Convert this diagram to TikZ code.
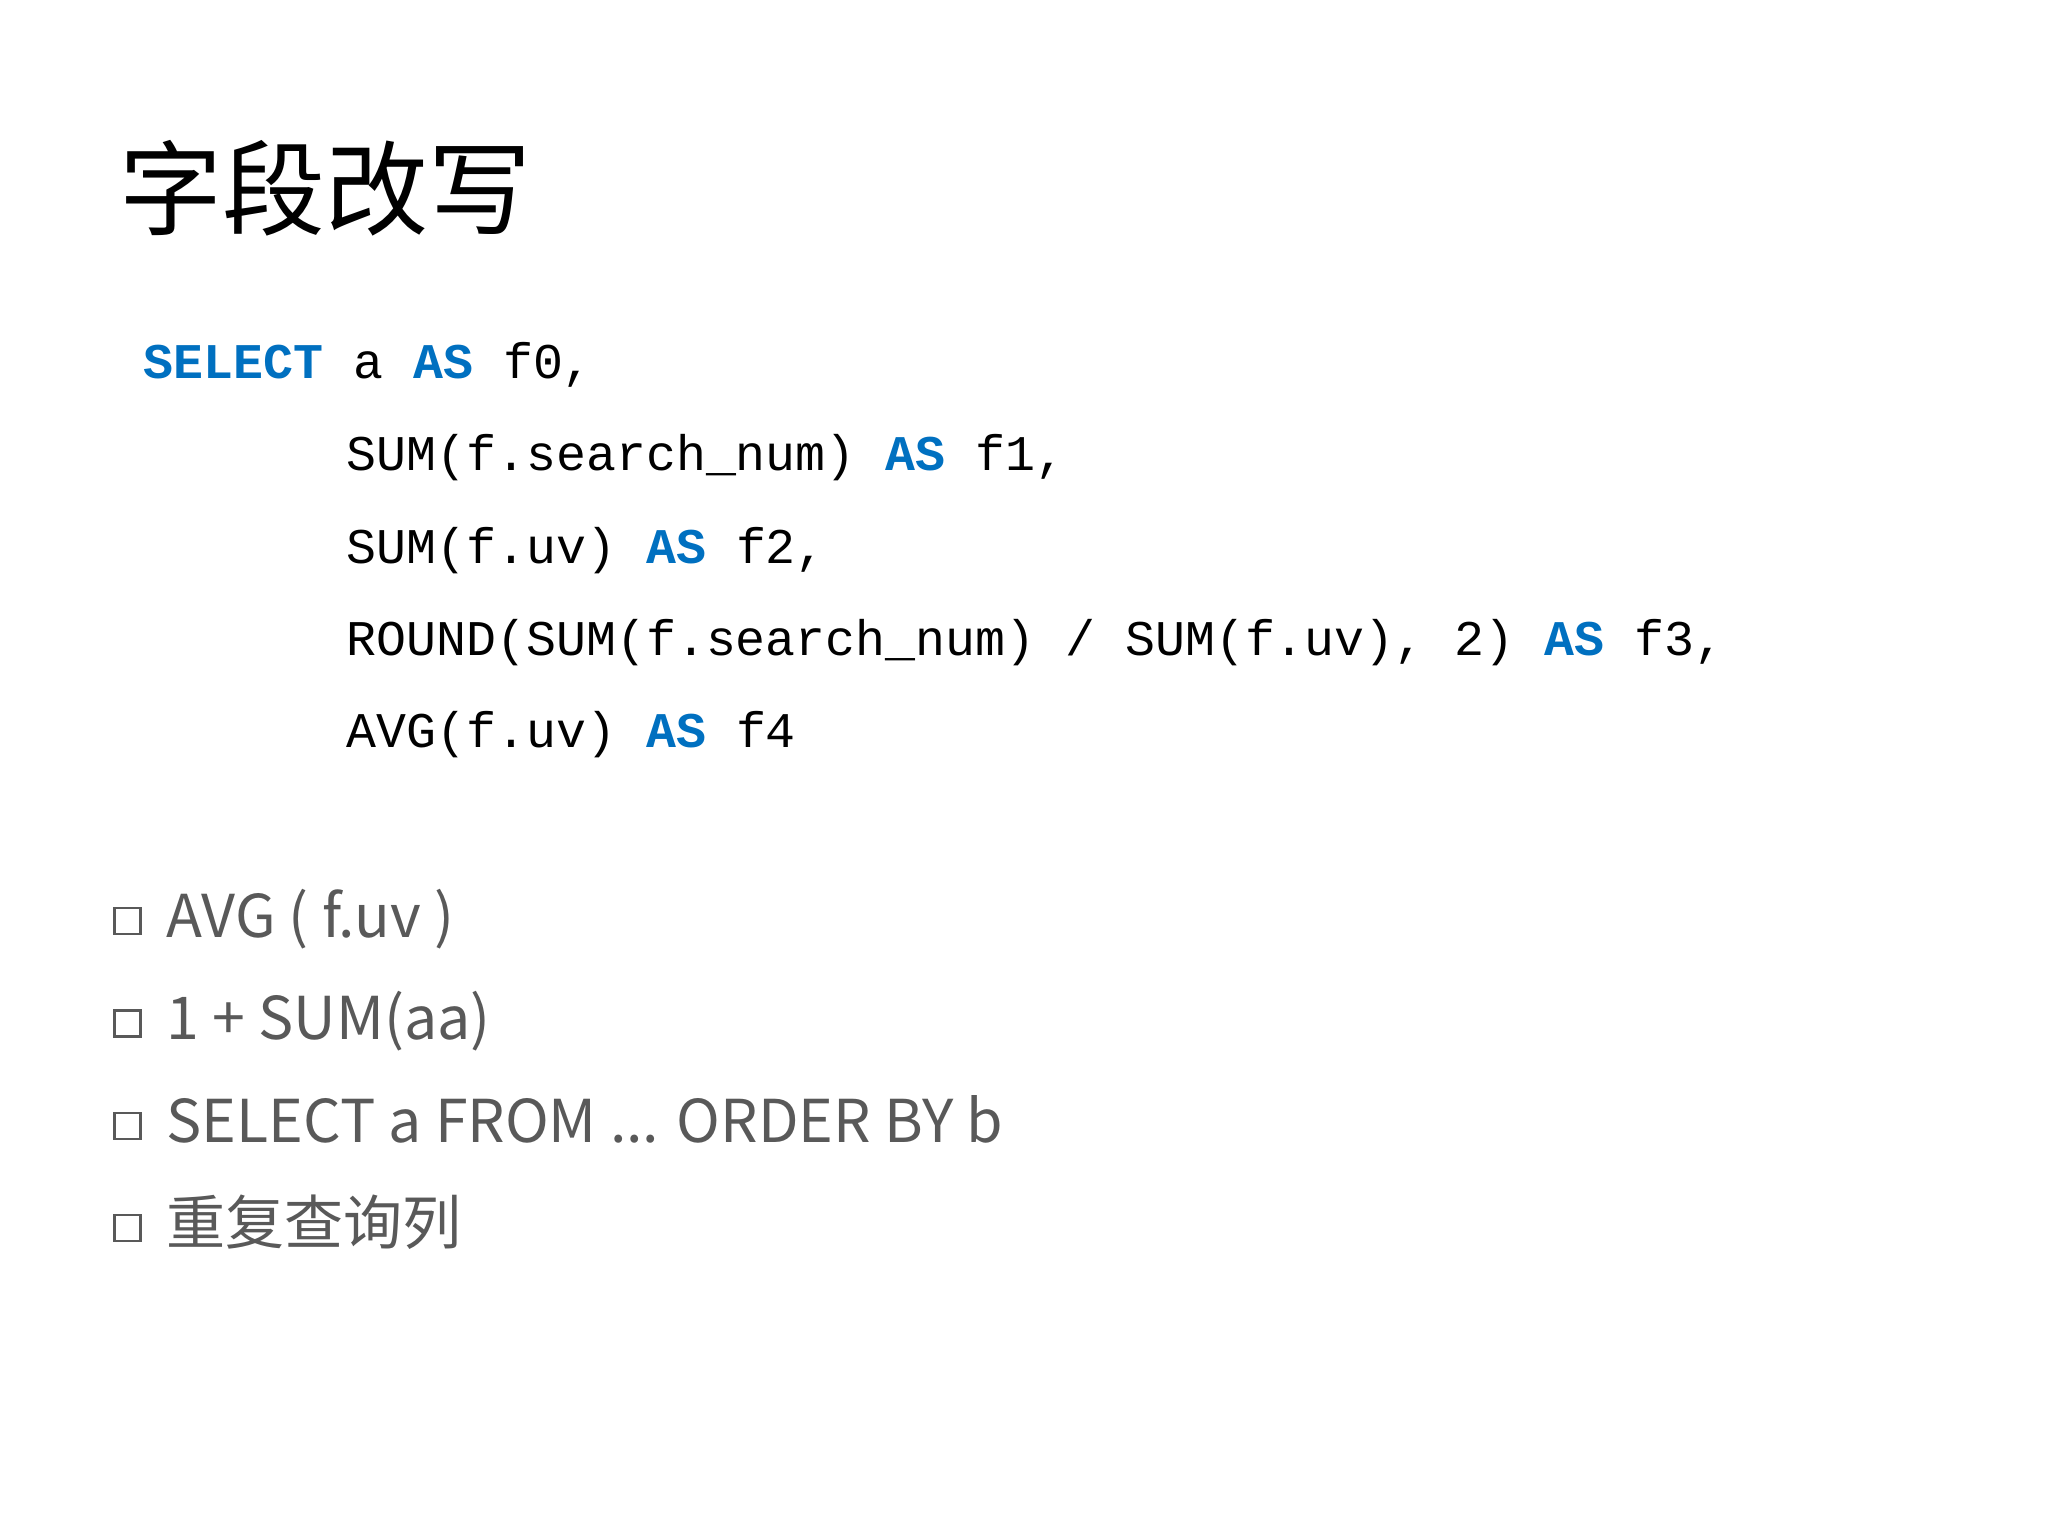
\documentclass[tikz,border=0pt]{standalone}
\usepackage{fontspec}
\setmonofont{Liberation Mono}
\newfontfamily\cjk{Noto Sans CJK SC}
\definecolor{kwblue}{RGB}{0,112,192}
\definecolor{txtgray}{RGB}{89,89,89}
\newcommand{\kw}[1]{\textbf{\color{kwblue}#1}}
\tikzset{
  codeline/.style={anchor=base west, inner sep=0, font=\ttfamily\fontsize{14.2}{16}\selectfont},
  itemtext/.style={anchor=base west, inner sep=0, text=txtgray, font=\cjk\fontsize{16.8}{20}\selectfont},
  itembox/.style={draw=txtgray, line width=0.6pt, minimum size=2.6mm, inner sep=0}
}
\begin{document}
\begin{tikzpicture}[x=0.1mm,y=-0.1mm]
			\useasboundingbox[fill=white] (0,0) rectangle (2048,1536);
			
			% title
			\node[anchor=west, inner sep=0, font=\cjk\fontsize{29.3}{32}\selectfont] (title) at (119,188) {字段改写};
			
			% code
			\node[codeline] (l0) at (143,378) {\kw{SELECT} a \kw{AS} f0,};
			\node[codeline] (l1) at (346,470) {SUM(f.search\_num) \kw{AS} f1,};
			\node[codeline] (l2) at (346,563) {SUM(f.uv) \kw{AS} f2,};
			\node[codeline] (l3) at (346,655) {ROUND(SUM(f.search\_num) / SUM(f.uv), 2) \kw{AS} f3,};
			\node[codeline] (l4) at (346,747) {AVG(f.uv) \kw{AS} f4};
			
			% items
			\node[itembox] (b1) at (127.5,921) {};
			\node[itemtext] (t1) at (166,937) {AVG ( f.uv )};
			
			\node[itembox] (b2) at (127.5,1023.5) {};
			\node[itemtext] (t2) at (166,1039) {1 + SUM(aa)};
			
			\node[itembox] (b3) at (127.5,1126) {};
			\node[itemtext] (t3) at (166,1142) {SELECT a FROM ... ORDER BY b};
			
			\node[itembox] (b4) at (127.5,1228) {};
			\node[itemtext] (t4) at (166,1244) {重复查询列};
		\end{tikzpicture}
\end{document}
